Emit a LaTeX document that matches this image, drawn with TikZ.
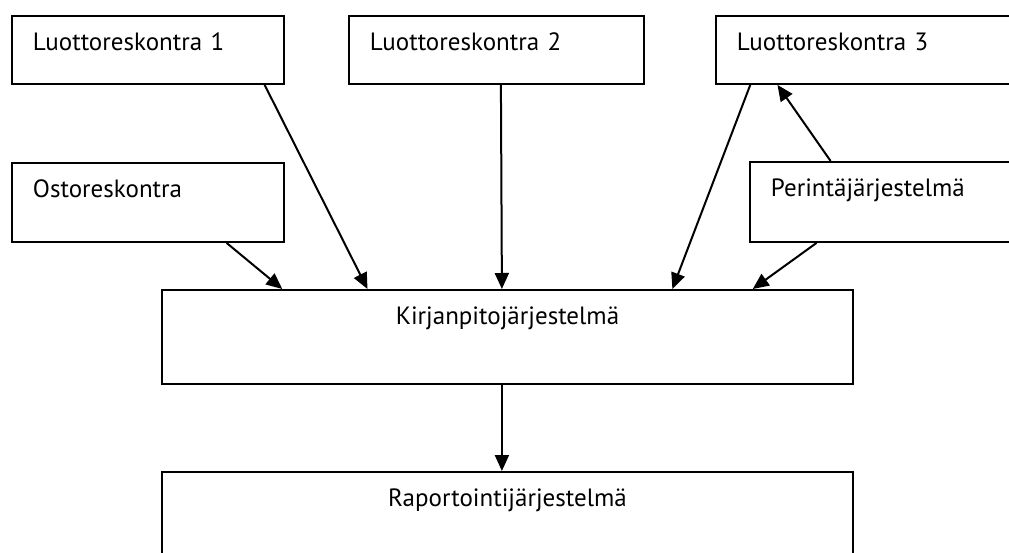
\documentclass[tikz,border=0pt]{standalone}
\usepackage{fontspec}
\setmainfont{PT Sans}
\usepackage{tikz}
\usetikzlibrary{arrows.meta, calc}

\begin{document}
\begin{tikzpicture}[
  x=1pt, y=-1pt,
  box/.style={rectangle, draw, line width=1.9pt, anchor=north west, inner xsep=21pt, inner ysep=0pt,
              text height=35pt, align=left, font=\fontsize{25pt}{30pt}\selectfont},
  bigbox/.style={box, align=center},
  arr/.style={-{Triangle[length=16pt, width=14pt]}, line width=2pt},
]
\clip (0,0) rectangle (1009,553);

% sources
\node[box, text width=230pt, text depth=33pt] (lr1) at (11,15) {Luottoreskontra 1};
\node[box, text width=253pt, text depth=33pt] (lr2) at (348,15) {Luottoreskontra 2};
\node[box, text width=255pt, text depth=33pt] (lr3) at (715,15) {Luottoreskontra 3};
\node[box, text width=230pt, text depth=44pt] (osto) at (11,162) {Ostoreskontra};
\node[box, text width=221pt, text depth=45pt] (perinta) at (749,161) {Perintäjärjestelmä};

% main systems
\node[bigbox, text width=649pt, text depth=59pt] (kirja) at (161,289) {Kirjanpitojärjestelmä};
\node[bigbox, text width=649pt, text depth=59pt] (rapo) at (161,471) {Raportointijärjestelmä};

\draw[arr] ($(lr1.south west)!0.926!(lr1.south east)$) -- ($(kirja.north west)!0.298!(kirja.north east)$);
\draw[arr] ($(osto.south west)!0.787!(osto.south east)$) -- ($(kirja.north west)!0.175!(kirja.north east)$);
\draw[arr] ($(lr2.south west)!0.515!(lr2.south east)$) -- ($(kirja.north west)!0.492!(kirja.north east)$);
\draw[arr] ($(lr3.south west)!0.118!(lr3.south east)$) -- ($(kirja.north west)!0.738!(kirja.north east)$);
\draw[arr] ($(perinta.south west)!0.255!(perinta.south east)$) -- ($(kirja.north west)!0.854!(kirja.north east)$);
\draw[arr] ($(perinta.north west)!0.308!(perinta.north east)$) -- ($(lr3.south west)!0.209!(lr3.south east)$);
\draw[arr] ($(kirja.south west)!0.492!(kirja.south east)$) -- ($(rapo.north west)!0.492!(rapo.north east)$);
\end{tikzpicture}
\end{document}
